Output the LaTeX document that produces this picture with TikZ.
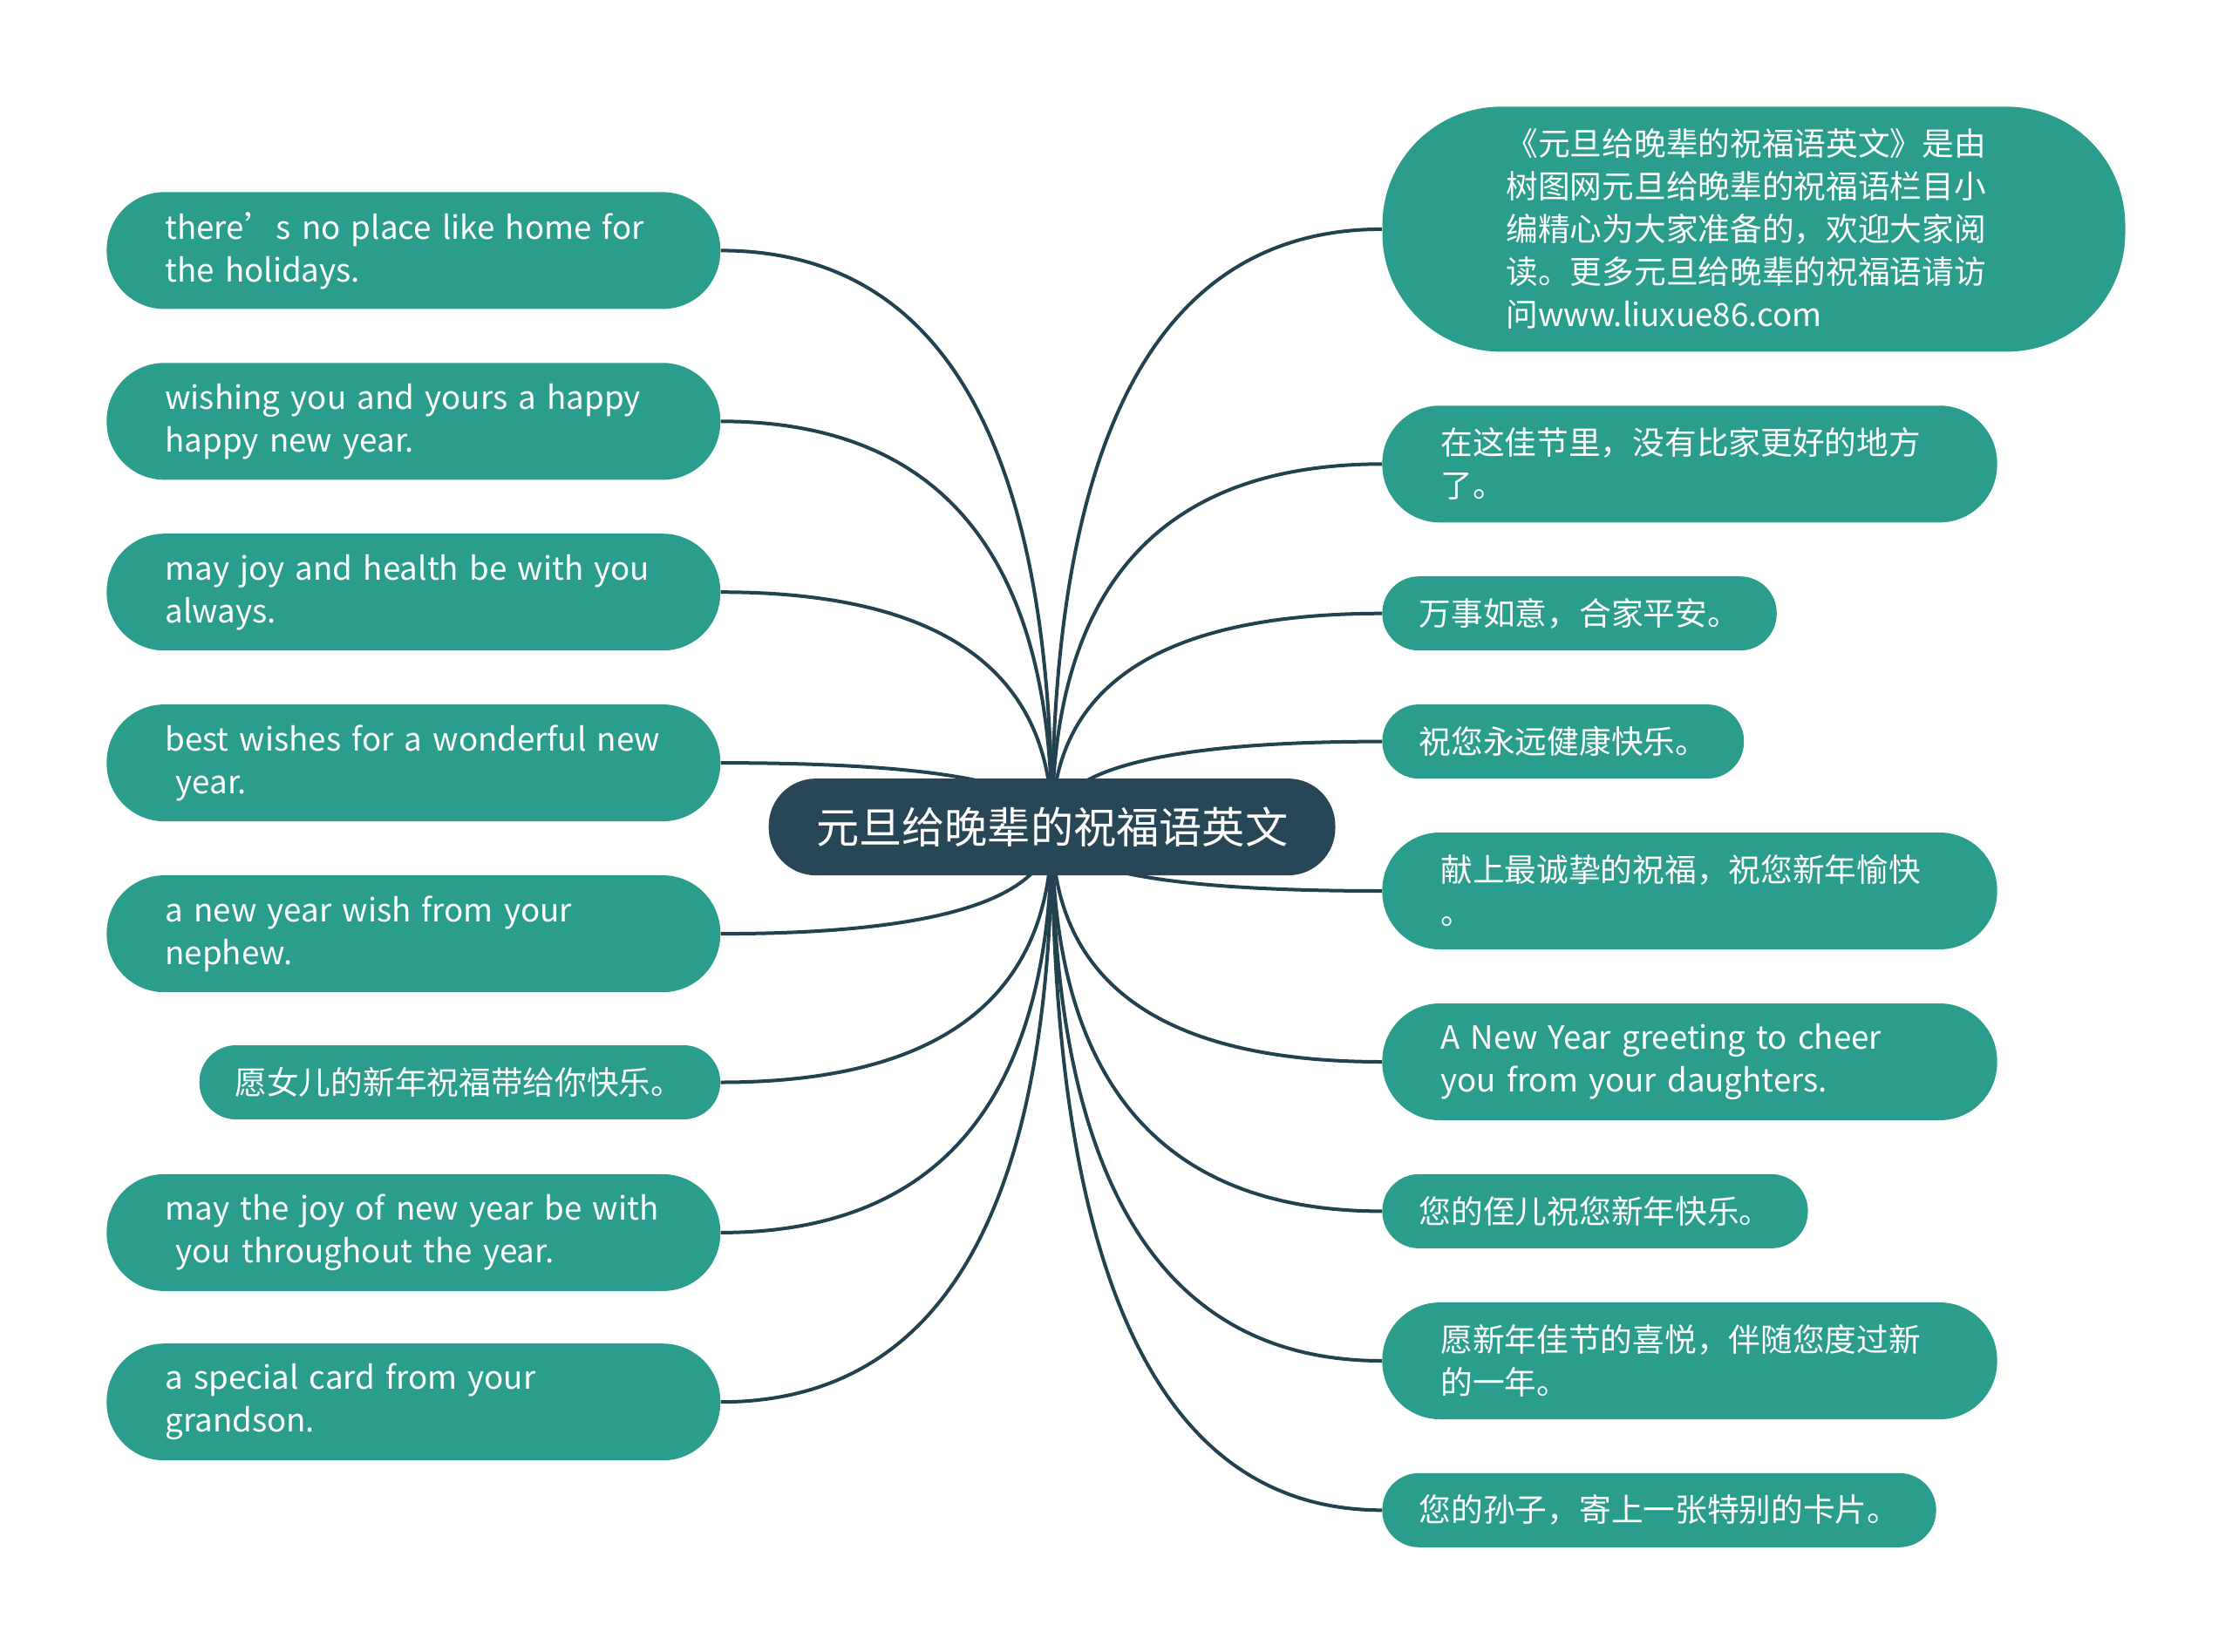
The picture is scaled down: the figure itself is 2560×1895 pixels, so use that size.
\documentclass[tikz,border=0pt]{standalone}
\usepackage{fontspec}
\setmainfont{Noto Sans CJK SC}
\usetikzlibrary{calc,backgrounds}
\definecolor{leafc}{HTML}{2B9D8C}
\definecolor{hubc}{HTML}{284756}
\definecolor{linec}{HTML}{23424F}
\newcommand\oneline[1]{\mbox{#1}}
\begin{document}
\begin{tikzpicture}[x=0.5pt,y=-0.5pt,
  leaf/.style={fill=leafc, text=white, inner ysep=0pt, align=left,
    font=\fontsize{18.35pt}{24.5pt}\selectfont},
  twoline/.style={leaf, minimum width=#1, minimum height=67pt, rounded corners=33pt,
    inner xsep=33.5pt, text width=#1-67pt},
  oneline/.style={leaf, minimum width=#1, minimum height=42.5pt, rounded corners=21pt,
    inner xsep=21.2pt, text width=#1-42.4pt},
  hubbox/.style={fill=hubc, text=white, minimum width=324.9pt, minimum height=55.5pt,
    rounded corners=27pt, font=\fontsize{24.6pt}{30pt}\selectfont},
  branch/.style={draw=linec, line width=2pt,
    to path={let \p1=(\tikztostart), \p2=(\tikztotarget) in
      .. controls ({\x1+2/3*(\x2-\x1)},\y1) and (\x2,{\y2+2/3*(\y1-\y2)}) .. (\tikztotarget)}}
]
\useasboundingbox (0,0) rectangle (2560,1895);

% centre
\node[hubbox] (C) at (1206.6,948.6) {元旦给晚辈的祝福语英文};
\coordinate (hub) at (1206.6,948.6);

% left side
\node[twoline=351.9pt] (L1) at (474.3,287.4) {\oneline{there’s no place like home for}\\\oneline{the holidays.}};
\node[twoline=351.9pt] (L2) at (474.3,483.3) {\oneline{wishing you and yours a happy}\\\oneline{happy new year.}};
\node[twoline=351.9pt] (L3) at (474.3,679.2) {\oneline{may joy and health be with you}\\\oneline{always.}};
\node[twoline=351.9pt] (L4) at (474.3,875.1) {\oneline{best wishes for a wonderful new}\\\oneline{\ year.}};
\node[twoline=351.9pt] (L5) at (474.3,1071.1) {\oneline{a new year wish from your}\\\oneline{nephew.}};
\node[oneline=298.7pt, inner xsep=20.4pt, text width=257.9pt] (L6) at (527.4,1241.5) {愿女儿的新年祝福带给你快乐。};
\node[twoline=351.9pt] (L7) at (474.3,1413.9) {\oneline{may the joy of new year be with}\\\oneline{\ you throughout the year.}};
\node[twoline=351.9pt] (L8) at (474.3,1608.2) {\oneline{a special card from your}\\\oneline{grandson.}};

% right side
\node[leaf, minimum width=426pt, minimum height=140.5pt, rounded corners=68pt,
  inner xsep=71pt, text width=284pt] (R1) at (2011.5,262.9)
  {《元旦给晚辈的祝福语英文》是由\\树图网元旦给晚辈的祝福语栏目小\\编精心为大家准备的，欢迎大家阅\\读。更多元旦给晚辈的祝福语请访\\问www.liuxue86.com};
\node[twoline=352.6pt] (R2) at (1938,532.3) {在这佳节里，没有比家更好的地方\\了。};
\node[oneline=226.2pt] (R3) at (1811.6,703.7) {万事如意，合家平安。};
\node[oneline=207.4pt] (R4) at (1792.8,850.6) {祝您永远健康快乐。};
\node[twoline=352.6pt] (R5) at (1938,1022) {献上最诚挚的祝福，祝您新年愉快\\。};
\node[twoline=352.6pt] (R6) at (1938,1218) {\oneline{A New Year greeting to cheer}\\\oneline{you from your daughters.}};
\node[oneline=244.1pt] (R7) at (1829.5,1389.4) {您的侄儿祝您新年快乐。};
\node[twoline=352.6pt] (R8) at (1938,1561) {愿新年佳节的喜悦，伴随您度过新\\的一年。};
\node[oneline=317.6pt] (R9) at (1903,1732.3) {您的孙子，寄上一张特别的卡片。};

\begin{scope}[on background layer]
  \foreach \n in {L1,L2,L3,L4,L5,L6,L7,L8}
    \draw[branch] (\n.east) to (hub);
  \foreach \n in {R1,R2,R3,R4,R5,R6,R7,R8,R9}
    \draw[branch] (\n.west) to (hub);
\end{scope}
\end{tikzpicture}
\end{document}
